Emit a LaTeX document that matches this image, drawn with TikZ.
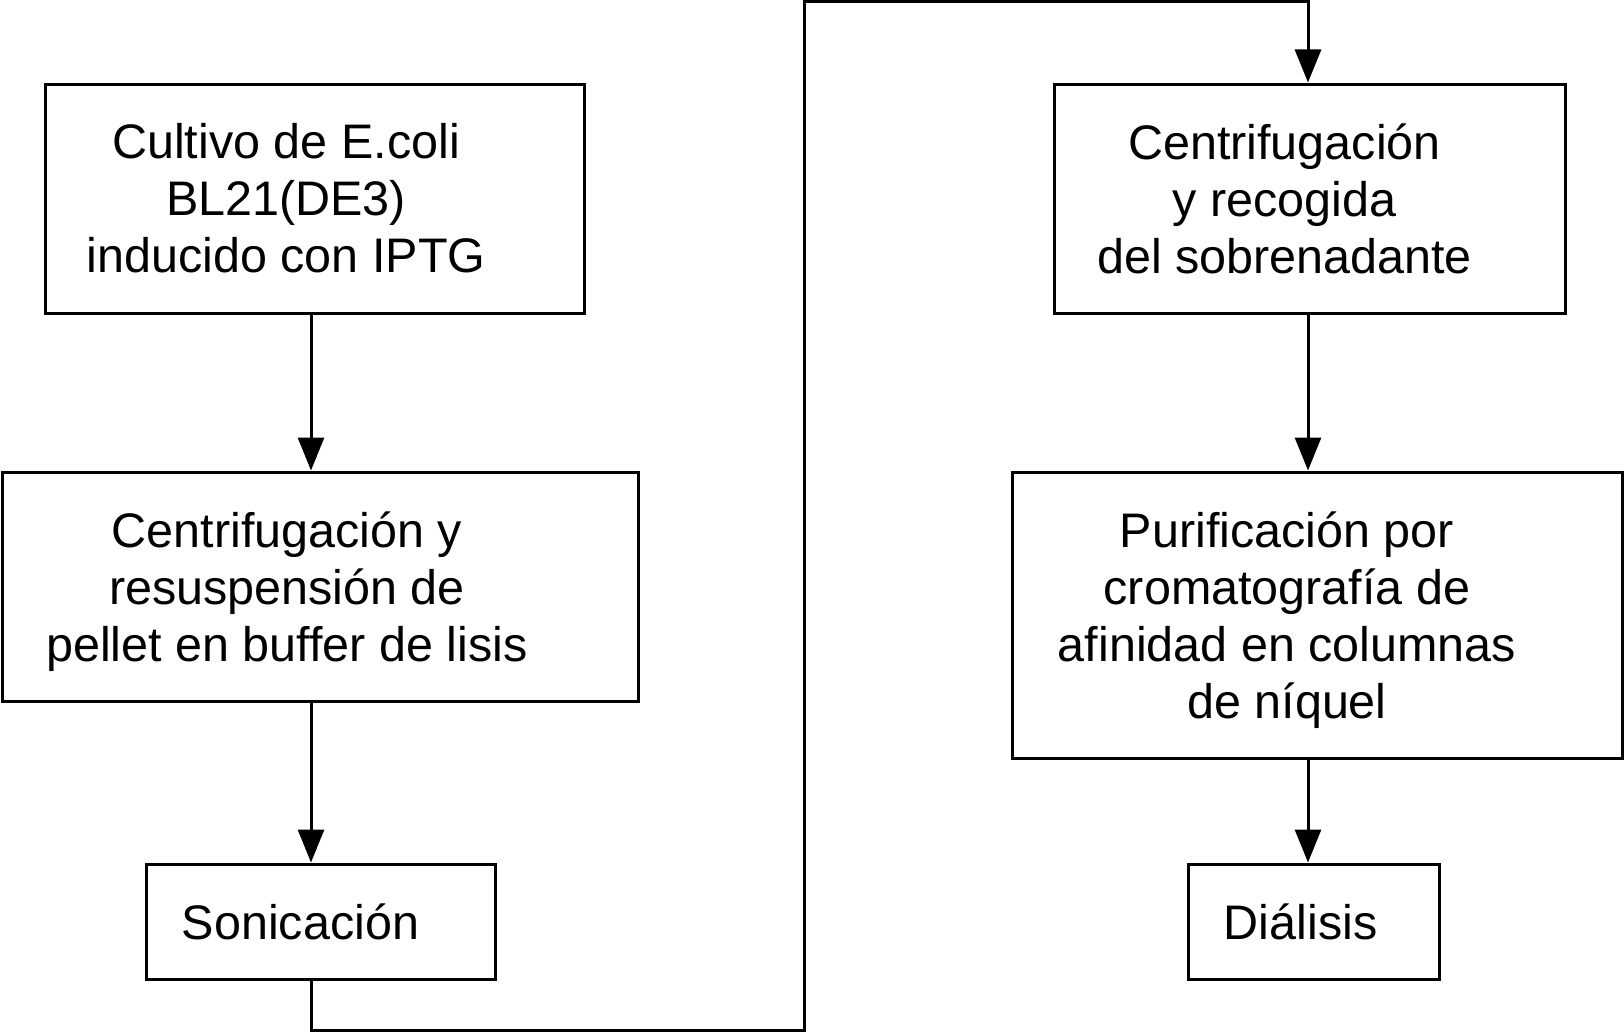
\documentclass[tikz,border=0pt]{standalone}
\usepackage{fontspec}
\setmainfont{Liberation Sans}
\usetikzlibrary{arrows.meta, calc, positioning}

\begin{document}
\begin{tikzpicture}[x=1pt, y=-1pt,
    box/.style={draw, line width=3pt, inner sep=0pt},
    txt/.style={align=center, font=\fontsize{48.5}{57}\selectfont, inner sep=0pt},
    arr/.style={line width=3pt, -{Triangle[length=33pt, width=26pt]}}]
    \useasboundingbox (0, 0) rectangle (1624, 1033);
    \coordinate (colL) at (311, 0);
    \coordinate (colR) at (1308, 0);

    % left column
    \node[box, minimum width=539pt, minimum height=229pt] (cultivo) at (315, 198.5) {};
    \node[box, minimum width=636pt, minimum height=229pt] (resusp) at (320, 586.5) {};
    \node[box, minimum width=349pt, minimum height=115pt] (sonic) at (320.5, 921.5) {};

    % right column
    \node[box, minimum width=511pt, minimum height=229pt] (centri) at (1309.5, 198.5) {};
    \node[box, minimum width=610pt, minimum height=286pt] (purif) at (1317, 615) {};
    \node[box, minimum width=251pt, minimum height=115pt] (dial) at (1313.5, 921.5) {};

    \node[txt] (cultivoT) at ($(cultivo) + (-29, 0)$) {Cultivo de E.coli\\BL21(DE3)\\inducido con IPTG};
    \node[txt] (resuspT) at ($(resusp) + (-33, 5)$) {Centrifugación y\\resuspensión de\\pellet en buffer de lisis};
    \node[txt] (sonicT) at ($(sonic) + (-20, 0)$) {Sonicación};
    \node[txt] (centriT) at ($(centri) + (-25, 0)$) {Centrifugación\\y recogida\\del sobrenadante};
    \node[txt] (purifT) at ($(purif) + (-30, 5)$) {Purificación por\\cromatografía de\\afinidad en columnas\\de níquel};
    \node[txt] (dialT) at ($(dial) + (-13, 0)$) {Diálisis};

    \coordinate (turnA) at (804, 1030);
    \coordinate (turnB) at (804, 2);

    \draw[arr] (cultivo.south -| colL) -- (resusp.north -| colL);
    \draw[arr] (resusp.south -| colL) -- (sonic.north -| colL);
    \draw[arr] (sonic.south -| colL) |- (turnA) -- (turnB) -| (centri.north -| colR);
    \draw[arr] (centri.south -| colR) -- (purif.north -| colR);
    \draw[arr] (purif.south -| colR) -- (dial.north -| colR);
\end{tikzpicture}
\end{document}
